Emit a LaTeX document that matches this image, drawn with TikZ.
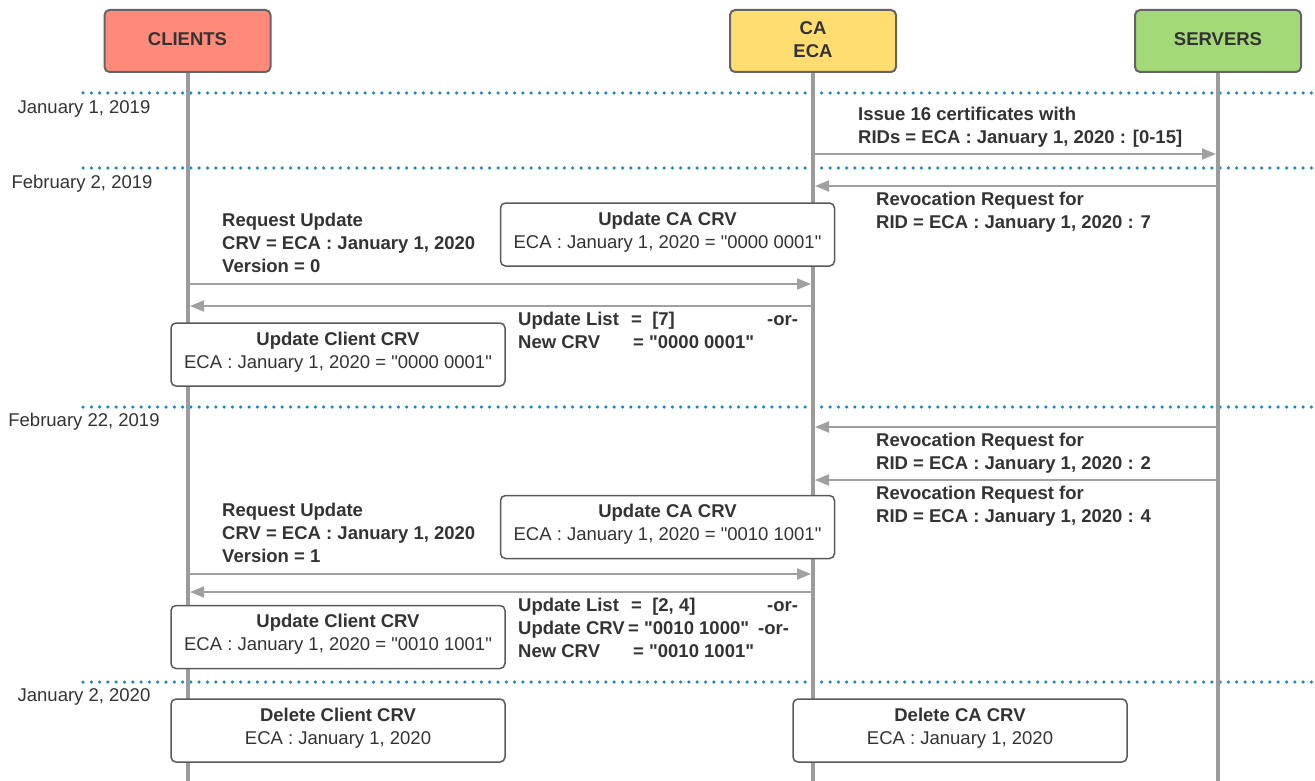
\documentclass[tikz,border=0pt]{standalone}
\usepackage{fontspec}
\setmainfont{Liberation Sans}[Ligatures=TeXOff]
\usetikzlibrary{arrows.meta}
\definecolor{clientfill}{RGB}{255,138,122}
\definecolor{cafill}{RGB}{255,221,113}
\definecolor{serverfill}{RGB}{163,217,119}
\definecolor{headline}{RGB}{100,100,100}
\definecolor{lifegray}{RGB}{155,155,155}
\definecolor{msggray}{RGB}{160,160,160}
\definecolor{boxline}{RGB}{90,90,90}
\definecolor{dotblue}{RGB}{22,130,200}
\definecolor{txt}{RGB}{51,51,51}
\newcommand{\fs}{\fontsize{18.5}{23}\selectfont}
\newcommand{\q}{\symbol{34}}
\begin{document}
\begin{tikzpicture}[x=1pt,y=-1pt,
  head/.style={draw=headline, line width=2pt, rounded corners=5pt, minimum width=166pt,
    minimum height=62pt, inner sep=0pt, align=center, text=txt, font=\fs\bfseries,
    execute at end node={\rule[-3pt]{0pt}{0pt}}},
  note/.style={draw=boxline, fill=white, line width=1.5pt, rounded corners=5pt,
    minimum width=334pt, minimum height=63pt, inner sep=0pt, align=center, text=txt, font=\fs,
    execute at end node={\rule[-9pt]{0pt}{0pt}}},
  lbl/.style={anchor=north west, inner sep=0pt, align=left, text=txt, font=\fs\bfseries},
  datelbl/.style={inner sep=0pt, text=txt, font=\fs},
  msg/.style={draw=msggray, line width=2pt, -{Triangle[length=14pt,width=11pt]}},
  life/.style={draw=lifegray, line width=4pt},
  period/.style={draw=dotblue, line width=3.5pt, line cap=round, dash pattern=on 0pt off 8.3pt}]
\useasboundingbox (0,0) rectangle (1315,781);

% time separators
\foreach \y/\n in {93/a,168/b,407/c,682/d}{
  \coordinate (sep\n L) at (83,\y);
  \coordinate (sep\n R) at (1315,\y);
  \draw[period] (sep\n L) -- (sep\n R);
}
\node[datelbl] (date1) at (84,109) {January 1, 2019};
\node[datelbl] (date2) at (82,184) {February 2, 2019};
\node[datelbl] (date3) at (84,422) {February 22, 2019};
\node[datelbl] (date4) at (84,697) {January 2, 2020};

% participants
\node[head, fill=clientfill] (clients) at (187.5,41) {CLIENTS};
\node[head, fill=cafill] (ca) at (813,41) {CA\\ECA};
\node[head, fill=serverfill] (servers) at (1218,41) {SERVERS};

% lifelines
\coordinate (clientsEnd) at (187.5,781);
\coordinate (caEnd) at (813,781);
\coordinate (serversEnd) at (1218,781);
\draw[life] (clients.south) -- (clientsEnd);
\draw[life] (ca.south) -- (caEnd);
\draw[life] (servers.south) -- (serversEnd);

% message end points on the lifelines
\foreach \y in {154,284,574}{
  \coordinate (caR\y) at (813,\y);
}
\coordinate (svIn154) at (1216,154);
\foreach \y in {186,427,480}{
  \coordinate (svOut\y) at (1218,\y);
  \coordinate (caIn\y) at (815,\y);
}
\coordinate (clOut284) at (187.5,284);
\coordinate (caIn284) at (811,284);
\coordinate (clOut574) at (187.5,574);
\coordinate (caIn574) at (811,574);
\coordinate (caOut306) at (813,306);
\coordinate (clIn306) at (190,306);
\coordinate (caOut592) at (813,592);
\coordinate (clIn592) at (190,592);

% messages
\draw[msg] (caR154) -- (svIn154);
\draw[msg] (svOut186) -- (caIn186);
\draw[msg] (clOut284) -- (caIn284);
\draw[msg] (caOut306) -- (clIn306);
\draw[msg] (svOut427) -- (caIn427);
\draw[msg] (svOut480) -- (caIn480);
\draw[msg] (clOut574) -- (caIn574);
\draw[msg] (caOut592) -- (clIn592);

% message labels
\node[lbl] (issue) at (858,107) {Issue 16 certificates with\\RIDs = ECA : January 1, 2020 : [0-15]};
\node[lbl] (revoke7) at (876,192) {Revocation Request for\\RID = ECA : January 1, 2020 : 7};
\node[lbl] (req0) at (222,213) {Request Update\\CRV = ECA : January 1, 2020\\Version = 0};
\node[lbl] (resp0) at (518,312) {\makebox[113pt][l]{Update List}\makebox[136pt][l]{=\ \ [7]}-or-\\
  \makebox[115pt][l]{New CRV}= \q0000 0001\q};
\node[lbl] (revoke2) at (876,433) {Revocation Request for\\RID = ECA : January 1, 2020 : 2};
\node[lbl] (revoke4) at (876,486) {Revocation Request for\\RID = ECA : January 1, 2020 : 4};
\node[lbl] (req1) at (222,503) {Request Update\\CRV = ECA : January 1, 2020\\Version = 1};
\node[lbl] (resp1) at (518,598) {\makebox[113pt][l]{Update List}\makebox[136pt][l]{=\ \ [2, 4]}-or-\\
  \makebox[110pt][l]{Update CRV}\makebox[130pt][l]{= \q0010 1000\q}-or-\\
  \makebox[115pt][l]{New CRV}= \q0010 1001\q};

% state updates
\node[note] (caUpd1) at (667.5,234.5) {\textbf{Update CA CRV}\\ECA : January 1, 2020 = \q0000 0001\q};
\node[note] (clUpd1) at (338,354.5) {\textbf{Update Client CRV}\\ECA : January 1, 2020 = \q0000 0001\q};
\node[note] (caUpd2) at (667.5,527) {\textbf{Update CA CRV}\\ECA : January 1, 2020 = \q0010 1001\q};
\node[note] (clUpd2) at (338,637) {\textbf{Update Client CRV}\\ECA : January 1, 2020 = \q0010 1001\q};
\node[note] (clDel) at (338,730.5) {\textbf{Delete Client CRV}\\ECA : January 1, 2020};
\node[note] (caDel) at (960,730.5) {\textbf{Delete CA CRV}\\ECA : January 1, 2020};
\end{tikzpicture}
\end{document}
